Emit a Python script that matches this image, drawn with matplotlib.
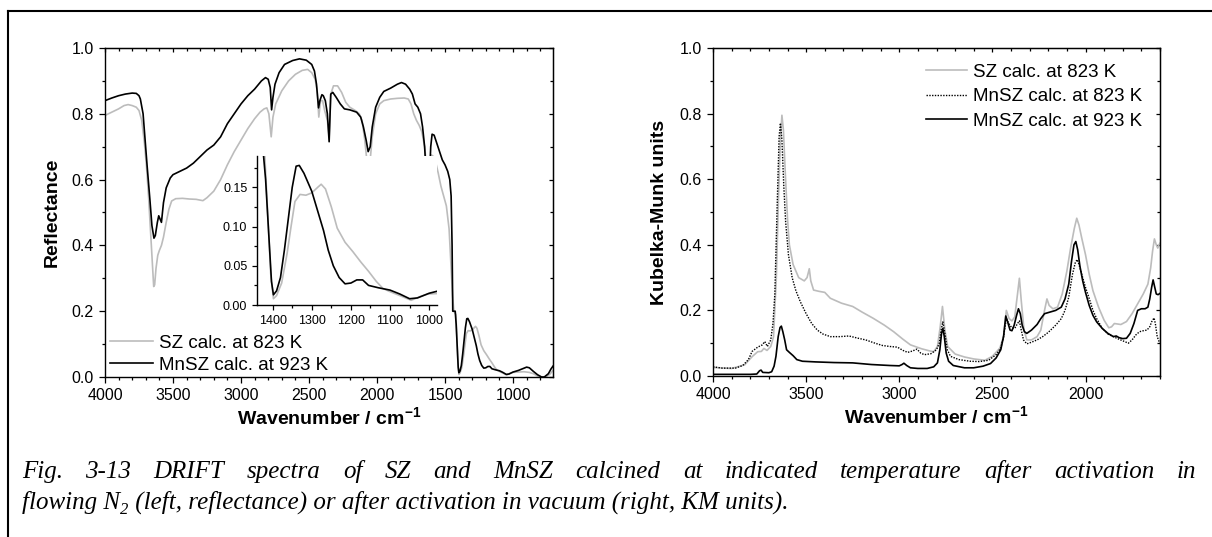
import matplotlib
matplotlib.use("Agg")
import matplotlib.pyplot as plt
from matplotlib.lines import Line2D
from matplotlib.ticker import MultipleLocator

plt.rcParams['font.family'] = ['Liberation Sans', 'DejaVu Sans']
plt.rcParams['mathtext.fontset'] = 'custom'
plt.rcParams['mathtext.rm'] = 'Liberation Sans:bold'
plt.rcParams['mathtext.default'] = 'rm'

# ---- left panel: reflectance after activation in N2 ----
w_sz_r = [4000, 3950, 3900, 3860, 3830, 3800, 3770, 3750, 3730, 3710, 3695, 3680, 3665, 3652,
          3642, 3635, 3625, 3612, 3600, 3585, 3570, 3550, 3530, 3510, 3480, 3430, 3380, 3330,
          3280, 3250, 3200, 3150, 3100, 3050, 3000, 2950, 2900, 2860, 2830, 2810, 2795, 2778,
          2765, 2745, 2700, 2650, 2600, 2550, 2510, 2480, 2455, 2440, 2428, 2415, 2400, 2385,
          2365, 2352, 2340, 2320, 2290, 2260, 2230, 2200, 2160, 2130, 2110, 2090, 2075, 2062,
          2050, 2035, 2010, 1980, 1950, 1900, 1850, 1800, 1770, 1750, 1730, 1710, 1690, 1670,
          1650, 1635, 1625, 1613, 1600, 1585, 1570, 1550, 1530, 1510, 1490, 1470, 1455, 1445,
          1435, 1420, 1412, 1405, 1398, 1390, 1377, 1363, 1353, 1343, 1330, 1315, 1300, 1285,
          1276, 1265, 1250, 1235, 1215, 1195, 1175, 1155, 1135, 1118, 1100, 1070, 1046, 1022,
          1003, 960, 920, 880, 850, 820, 790, 760, 730, 706]
r_sz = [0.795, 0.805, 0.815, 0.825, 0.828, 0.825, 0.82, 0.81, 0.78, 0.71, 0.64, 0.55, 0.44, 0.35,
        0.275, 0.28, 0.33, 0.37, 0.385, 0.40, 0.425, 0.47, 0.51, 0.535, 0.542, 0.543, 0.541, 0.540,
        0.536, 0.545, 0.565, 0.60, 0.645, 0.685, 0.72, 0.755, 0.785, 0.805, 0.815, 0.818, 0.80, 0.73,
        0.79, 0.83, 0.87, 0.90, 0.92, 0.932, 0.935, 0.925, 0.905, 0.87, 0.79, 0.84, 0.84, 0.81,
        0.78, 0.73, 0.86, 0.885, 0.885, 0.865, 0.835, 0.82, 0.81, 0.80, 0.78, 0.72, 0.66, 0.64,
        0.66, 0.73, 0.80, 0.83, 0.84, 0.845, 0.847, 0.848, 0.845, 0.83, 0.80, 0.78, 0.765, 0.745,
        0.70, 0.64, 0.595, 0.62, 0.675, 0.670, 0.655, 0.62, 0.58, 0.55, 0.52, 0.45, 0.33, 0.25,
        0.20, 0.19, 0.11, 0.04, 0.008, 0.012, 0.028, 0.066, 0.10, 0.132, 0.141, 0.140, 0.143, 0.150,
        0.154, 0.148, 0.125, 0.098, 0.080, 0.068, 0.055, 0.043, 0.030, 0.021, 0.017, 0.011, 0.006, 0.011,
        0.014, 0.015, 0.016, 0.014, 0.010, 0.003, 0.0, 0.0, 0.008, 0.02]

w_mn_r = [4000, 3950, 3900, 3850, 3800, 3770, 3750, 3740, 3720, 3705, 3690, 3670, 3655, 3640,
          3630, 3615, 3605, 3595, 3585, 3570, 3550, 3520, 3500, 3450, 3400, 3350, 3300, 3250,
          3200, 3150, 3100, 3050, 3000, 2950, 2900, 2850, 2820, 2800, 2785, 2775, 2765, 2750,
          2720, 2680, 2620, 2570, 2520, 2480, 2460, 2445, 2430, 2420, 2405, 2395, 2380, 2365,
          2352, 2340, 2325, 2300, 2270, 2240, 2200, 2150, 2120, 2100, 2080, 2065, 2050, 2035,
          2010, 1980, 1950, 1900, 1850, 1820, 1790, 1760, 1740, 1720, 1700, 1680, 1665, 1650,
          1640, 1625, 1615, 1605, 1595, 1580, 1560, 1540, 1520, 1500, 1480, 1465, 1455, 1448,
          1443, 1425, 1418, 1410, 1403, 1398, 1390, 1380, 1370, 1360, 1350, 1340, 1332, 1320,
          1300, 1285, 1270, 1258, 1245, 1230, 1215, 1200, 1185, 1170, 1155, 1130, 1100, 1075,
          1050, 1030, 1010, 1000, 960, 930, 900, 880, 850, 820, 790, 770, 740, 720, 706]
r_mn = [0.840, 0.848, 0.855, 0.860, 0.863, 0.862, 0.855, 0.845, 0.80, 0.72, 0.64, 0.54, 0.46, 0.422,
        0.43, 0.47, 0.49, 0.48, 0.47, 0.53, 0.575, 0.605, 0.615, 0.625, 0.635, 0.65, 0.67, 0.69,
        0.705, 0.73, 0.77, 0.80, 0.83, 0.855, 0.875, 0.90, 0.91, 0.905, 0.88, 0.812, 0.85, 0.89,
        0.925, 0.95, 0.962, 0.967, 0.963, 0.95, 0.93, 0.89, 0.818, 0.84, 0.858, 0.855, 0.84, 0.80,
        0.715, 0.86, 0.865, 0.85, 0.83, 0.815, 0.812, 0.805, 0.79, 0.76, 0.72, 0.685, 0.70, 0.76,
        0.82, 0.85, 0.868, 0.878, 0.89, 0.895, 0.89, 0.875, 0.86, 0.83, 0.82, 0.80, 0.76, 0.70,
        0.63, 0.57, 0.60, 0.70, 0.738, 0.735, 0.71, 0.685, 0.66, 0.645, 0.625, 0.60, 0.55, 0.40,
        0.20, 0.20, 0.16, 0.09, 0.03, 0.013, 0.018, 0.035, 0.07, 0.11, 0.15, 0.177, 0.178, 0.168,
        0.145, 0.12, 0.095, 0.07, 0.05, 0.035, 0.027, 0.028, 0.032, 0.032, 0.025, 0.022, 0.019, 0.014,
        0.008, 0.009, 0.013, 0.015, 0.02, 0.025, 0.03, 0.028, 0.017, 0.007, 0.0, 0.0, 0.01, 0.025, 0.033]

# ---- right panel: Kubelka-Munk after activation in vacuum ----
w_sz_km = [4000, 3900, 3830, 3790, 3760, 3740, 3727, 3710, 3690, 3675, 3660, 3648, 3638, 3630,
           3622, 3612, 3600, 3590, 3570, 3540, 3510, 3495, 3483, 3475, 3460, 3430, 3400, 3370,
           3310, 3250, 3200, 3140, 3080, 3030, 2980, 2940, 2880, 2840, 2815, 2795, 2780, 2768,
           2755, 2740, 2700, 2650, 2600, 2540, 2500, 2460, 2440, 2425, 2410, 2395, 2380, 2365,
           2355, 2345, 2330, 2315, 2290, 2260, 2240, 2220, 2207, 2195, 2175, 2150, 2125, 2100,
           2080, 2060, 2047, 2035, 2020, 2000, 1980, 1960, 1930, 1900, 1875, 1860, 1845, 1810,
           1780, 1750, 1720, 1690, 1665, 1650, 1640, 1630, 1620, 1612, 1605, 1600]
km_sz = [0.026, 0.023, 0.034, 0.059, 0.074, 0.075, 0.084, 0.078, 0.09, 0.12, 0.30, 0.55, 0.72, 0.795,
         0.75, 0.62, 0.48, 0.40, 0.34, 0.30, 0.29, 0.30, 0.327, 0.29, 0.262, 0.258, 0.255, 0.237,
         0.222, 0.212, 0.195, 0.176, 0.155, 0.135, 0.112, 0.095, 0.083, 0.077, 0.074, 0.09, 0.15, 0.212,
         0.14, 0.09, 0.067, 0.058, 0.052, 0.048, 0.06, 0.085, 0.12, 0.20, 0.175, 0.168, 0.18, 0.25,
         0.298, 0.23, 0.14, 0.11, 0.11, 0.12, 0.14, 0.20, 0.235, 0.215, 0.205, 0.21, 0.25, 0.32,
         0.39, 0.45, 0.481, 0.46, 0.42, 0.37, 0.31, 0.26, 0.21, 0.17, 0.147, 0.15, 0.16, 0.157,
         0.166, 0.19, 0.22, 0.25, 0.28, 0.33, 0.38, 0.418, 0.40, 0.39, 0.40, 0.405]

w_mn823_km = [4000, 3950, 3880, 3840, 3810, 3790, 3760, 3735, 3722, 3708, 3690, 3678, 3668, 3655,
              3645, 3638, 3630, 3620, 3610, 3595, 3575, 3555, 3530, 3500, 3470, 3440, 3410, 3370,
              3320, 3270, 3220, 3180, 3130, 3090, 3050, 3010, 2980, 2955, 2930, 2905, 2885, 2865,
              2830, 2800, 2785, 2775, 2766, 2755, 2742, 2725, 2680, 2620, 2570, 2520, 2480, 2455,
              2440, 2425, 2412, 2397, 2380, 2365, 2355, 2345, 2333, 2315, 2290, 2260, 2230, 2200,
              2160, 2130, 2110, 2090, 2070, 2055, 2045, 2035, 2020, 2000, 1985, 1960, 1940, 1910,
              1880, 1850, 1820, 1790, 1770, 1750, 1730, 1710, 1690, 1670, 1655, 1645, 1632, 1625,
              1615, 1605, 1600]
km_mn823 = [0.028, 0.024, 0.024, 0.032, 0.05, 0.075, 0.088, 0.095, 0.105, 0.09, 0.11, 0.16, 0.25, 0.53,
            0.73, 0.771, 0.72, 0.58, 0.47, 0.37, 0.30, 0.26, 0.225, 0.19, 0.16, 0.14, 0.128, 0.12,
            0.12, 0.122, 0.115, 0.11, 0.10, 0.093, 0.09, 0.088, 0.078, 0.072, 0.076, 0.082, 0.07, 0.065,
            0.068, 0.08, 0.10, 0.14, 0.165, 0.13, 0.08, 0.06, 0.05, 0.045, 0.044, 0.048, 0.065, 0.085,
            0.12, 0.175, 0.16, 0.148, 0.145, 0.16, 0.168, 0.14, 0.11, 0.098, 0.103, 0.11, 0.12, 0.133,
            0.155, 0.175, 0.20, 0.24, 0.31, 0.345, 0.355, 0.34, 0.31, 0.27, 0.245, 0.20, 0.175, 0.145,
            0.128, 0.12, 0.112, 0.105, 0.10, 0.11, 0.125, 0.135, 0.138, 0.14, 0.15, 0.165, 0.177, 0.16,
            0.12, 0.105, 0.098]

w_mn923_km = [4000, 3900, 3800, 3765, 3750, 3742, 3733, 3700, 3685, 3672, 3662, 3650, 3640, 3633,
              3625, 3615, 3605, 3590, 3570, 3550, 3520, 3450, 3350, 3250, 3150, 3050, 3000, 2985,
              2975, 2960, 2940, 2900, 2850, 2815, 2795, 2782, 2773, 2766, 2758, 2748, 2735, 2710,
              2650, 2600, 2550, 2510, 2480, 2455, 2440, 2428, 2418, 2405, 2395, 2383, 2370, 2360,
              2350, 2340, 2328, 2315, 2290, 2260, 2240, 2220, 2190, 2160, 2130, 2110, 2090, 2075,
              2062, 2052, 2042, 2030, 2015, 2000, 1980, 1960, 1940, 1910, 1880, 1850, 1835, 1820,
              1800, 1780, 1760, 1740, 1720, 1700, 1680, 1665, 1655, 1645, 1637, 1628, 1620, 1610, 1600]
km_mn923 = [0.005, 0.005, 0.005, 0.006, 0.016, 0.018, 0.011, 0.010, 0.013, 0.03, 0.06, 0.12, 0.148, 0.152,
            0.135, 0.11, 0.08, 0.072, 0.062, 0.05, 0.045, 0.043, 0.041, 0.040, 0.035, 0.032, 0.031, 0.035,
            0.039, 0.032, 0.025, 0.023, 0.023, 0.028, 0.04, 0.08, 0.13, 0.145, 0.12, 0.07, 0.045, 0.032,
            0.025, 0.025, 0.03, 0.038, 0.055, 0.08, 0.12, 0.183, 0.165, 0.14, 0.138, 0.155, 0.185, 0.205,
            0.19, 0.155, 0.135, 0.13, 0.14, 0.157, 0.175, 0.19, 0.195, 0.20, 0.21, 0.235, 0.28, 0.35,
            0.40, 0.41, 0.385, 0.335, 0.29, 0.255, 0.215, 0.185, 0.165, 0.145, 0.13, 0.12, 0.122, 0.117,
            0.114, 0.115, 0.13, 0.16, 0.20, 0.205, 0.205, 0.21, 0.235, 0.27, 0.293, 0.27, 0.25, 0.248, 0.252]

grey = '#bcbcbc'
W, H = 1212, 537
fig = plt.figure(figsize=(W / 100, H / 100), dpi=100)


def px_axes(x0, y0, x1, y1):
    return fig.add_axes([x0 / W, 1 - y1 / H, (x1 - x0) / W, (y1 - y0) / H])


def style(ax, lsize=11.5):
    for s in ax.spines.values():
        s.set_linewidth(1.0)
    ax.tick_params(which='both', direction='out', labelsize=lsize, width=0.9)
    ax.tick_params(which='major', length=4.5)
    ax.tick_params(which='minor', length=2.5)


def mirror(ax):
    # small inward ticks on the top and right spines, no labels
    t = ax.secondary_xaxis('top')
    t.xaxis.set_major_locator(ax.xaxis.get_major_locator())
    t.xaxis.set_minor_locator(ax.xaxis.get_minor_locator())
    t.tick_params(which='both', direction='in', labeltop=False, width=0.9)
    t.tick_params(which='major', length=3)
    t.tick_params(which='minor', length=2)
    r = ax.secondary_yaxis('right')
    r.yaxis.set_major_locator(ax.yaxis.get_major_locator())
    r.yaxis.set_minor_locator(ax.yaxis.get_minor_locator())
    r.tick_params(which='both', direction='in', labelright=False, width=0.9)
    r.tick_params(which='major', length=3)
    r.tick_params(which='minor', length=2)


# left
ax1 = px_axes(105, 48, 553, 377)
ax1.plot(w_sz_r, r_sz, color=grey, lw=1.2, label='SZ calc. at 823 K')
ax1.plot(w_mn_r, r_mn, color='black', lw=1.2, label='MnSZ calc. at 923 K')
ax1.set_xlim(4000, 706)
ax1.set_ylim(0, 1.0)
ax1.xaxis.set_major_locator(MultipleLocator(500))
ax1.xaxis.set_minor_locator(MultipleLocator(100))
ax1.yaxis.set_major_locator(MultipleLocator(0.2))
ax1.yaxis.set_minor_locator(MultipleLocator(0.1))
ax1.yaxis.set_major_formatter(plt.FormatStrFormatter('%.1f'))
style(ax1)
mirror(ax1)
ax1.set_xlabel(r'Wavenumber / cm$^{-1}$', fontsize=14, fontweight='bold', labelpad=2)
ax1.set_ylabel('Reflectance', fontsize=14, fontweight='bold', labelpad=8)
ax1.legend(loc='lower left', bbox_to_anchor=(0.011, 0.01), frameon=False, fontsize=13.5,
           handlelength=2.3, handletextpad=0.3, labelspacing=0.26, borderpad=0, borderaxespad=0)

# inset
axi = px_axes(257, 156, 437, 305)
axi.plot(w_sz_r, r_sz, color=grey, lw=1.2)
axi.plot(w_mn_r, r_mn, color='black', lw=1.2)
axi.set_xlim(1440, 980)
axi.set_ylim(0, 0.19)
axi.xaxis.set_major_locator(MultipleLocator(100))
axi.xaxis.set_minor_locator(MultipleLocator(50))
axi.yaxis.set_major_locator(MultipleLocator(0.05))
axi.yaxis.set_minor_locator(MultipleLocator(0.025))
axi.yaxis.set_major_formatter(plt.FormatStrFormatter('%.2f'))
axi.spines['top'].set_visible(False)
axi.spines['right'].set_visible(False)
style(axi, lsize=9)
axi.tick_params(which='major', length=3.5)
axi.tick_params(which='minor', length=2)

# right
ax2 = px_axes(713, 48, 1160, 376)
ax2.plot(w_sz_km, km_sz, color=grey, lw=1.2, label='SZ calc. at 823 K')
ax2.plot(w_mn823_km, km_mn823, color='black', lw=1.0, ls=(0, (1, 1)), label='MnSZ calc. at 823 K')
ax2.plot(w_mn923_km, km_mn923, color='black', lw=1.2, label='MnSZ calc. at 923 K')
ax2.set_xlim(4000, 1600)
ax2.set_ylim(0, 1.0)
ax2.xaxis.set_major_locator(MultipleLocator(500))
ax2.xaxis.set_minor_locator(MultipleLocator(100))
ax2.yaxis.set_major_locator(MultipleLocator(0.2))
ax2.yaxis.set_minor_locator(MultipleLocator(0.1))
ax2.yaxis.set_major_formatter(plt.FormatStrFormatter('%.1f'))
style(ax2)
mirror(ax2)
ax2.set_xlabel(r'Wavenumber / cm$^{-1}$', fontsize=14, fontweight='bold', labelpad=2)
ax2.set_ylabel('Kubelka-Munk units', fontsize=14, fontweight='bold', labelpad=8)
ax2.legend(loc='upper left', bbox_to_anchor=(0.477, 0.952), frameon=False, fontsize=13.5,
           handlelength=2.2, handletextpad=0.32, labelspacing=0.39, borderpad=0, borderaxespad=0)

# frame lines of the page
fig.add_artist(Line2D([8 / W, 8 / W], [0, 1 - 11 / H], color='black', lw=1.5))
fig.add_artist(Line2D([8 / W, 1], [1 - 11 / H, 1 - 11 / H], color='black', lw=1.5))

# caption, first line justified
cap_font = dict(family='Liberation Serif', style='italic', fontsize=18)
line1 = 'Fig. 3-13 DRIFT spectra of SZ and MnSZ calcined at indicated temperature after activation in'
x_start, x_end = 22, 1196
renderer = fig.canvas.get_renderer()
words = line1.split()
texts = [fig.text(0, 1 - 478 / H, wd, va='baseline', **cap_font) for wd in words]
widths = [t.get_window_extent(renderer).width for t in texts]
gap = (x_end - x_start - sum(widths)) / (len(words) - 1)
x = x_start
for t, wd in zip(texts, widths):
    t.set_x(x / W)
    x += wd + gap

y2 = 1 - 509 / H
t_a = fig.text(x_start / W, y2, 'flowing N', va='baseline', **cap_font)
xa = x_start + t_a.get_window_extent(renderer).width
t_b = fig.text(xa / W, y2 - 5 / H, '2', va='baseline', family='Liberation Serif', style='italic',
               fontsize=12)
xb = xa + t_b.get_window_extent(renderer).width + 1
fig.text(xb / W, y2, ' (left, reflectance) or after activation in vacuum (right, KM units).',
         va='baseline', **cap_font)

fig.savefig('out.png', dpi=100)
